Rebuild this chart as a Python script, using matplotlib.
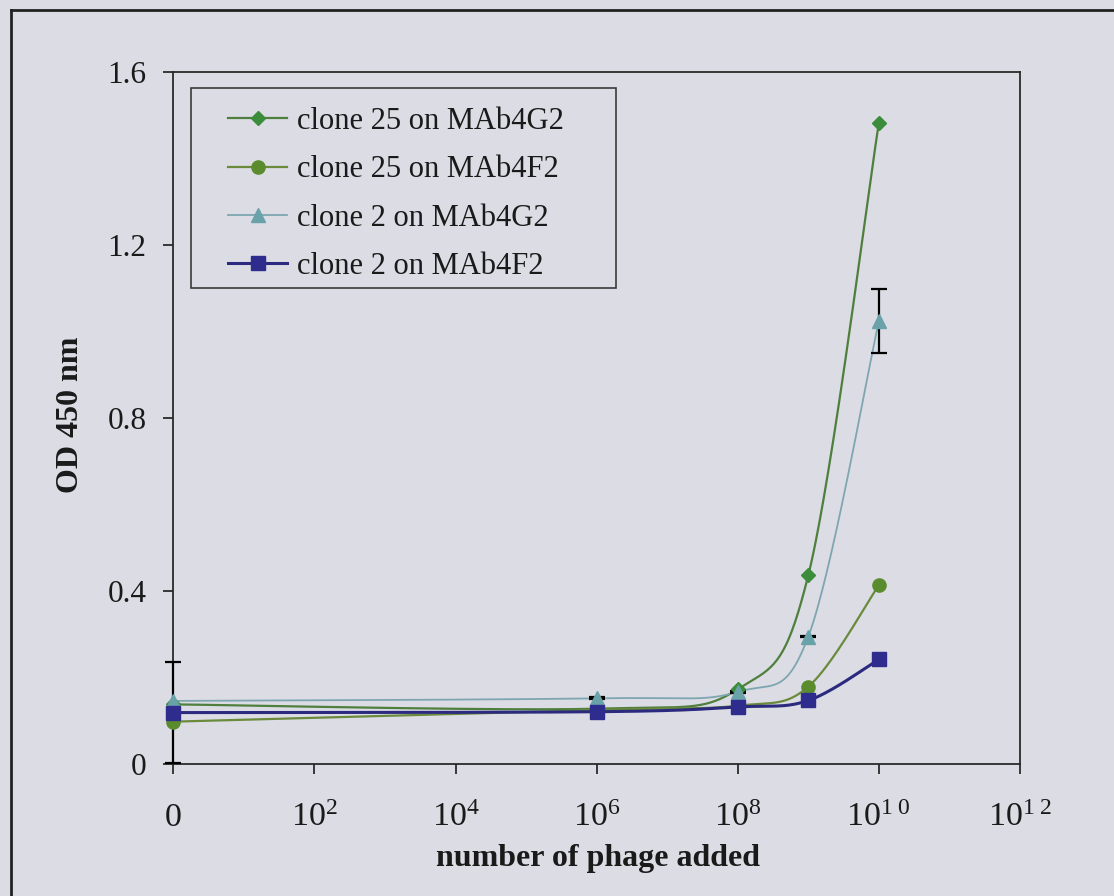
import numpy as np
import matplotlib
matplotlib.use("Agg")
import matplotlib.pyplot as plt
from matplotlib.lines import Line2D
from matplotlib.patches import Rectangle

# ---- data -------------------------------------------------------------
# phage added, as log10 of the count (0 is the no-phage control)
log_phage = [0, 6, 8, 9, 10]
tick_pos = [0, 2, 4, 6, 8, 10, 12]
tick_labels = ["0", r"$10^{2}$", r"$10^{4}$", r"$10^{6}$", r"$10^{8}$",
               r"$10^{1\ 0}$", r"$10^{1\ 2}$"]
y_ticks = [0, 0.4, 0.8, 1.2, 1.6]
y_tick_labels = ["0", "0.4", "0.8", "1.2", "1.6"]

series_names = ["clone 25 on MAb4G2", "clone 25 on MAb4F2",
                "clone 2 on MAb4G2", "clone 2 on MAb4F2"]
clone25_4g2 = [0.138, 0.128, 0.173, 0.437, 1.484]
clone25_4f2 = [0.098, 0.125, 0.135, 0.179, 0.414]
clone2_4g2 = [0.146, 0.152, 0.167, 0.295, 1.025]
clone2_4f2 = [0.119, 0.121, 0.132, 0.147, 0.242]
clone2_4g2_err = [0.0, 0.002, 0.002, 0.002, 0.075]
clone2_4f2_err = [0.117, 0.0, 0.0, 0.0, 0.0]

# ---- style --------------------------------------------------------------
BG = "#dcdce5"
plt.rcParams["font.family"] = ["Liberation Serif", "DejaVu Serif"]
plt.rcParams["mathtext.fontset"] = "custom"
plt.rcParams["mathtext.rm"] = "Liberation Serif"
plt.rcParams["mathtext.it"] = "Liberation Serif:italic"
plt.rcParams["mathtext.bf"] = "Liberation Serif:bold"

styles = [
    dict(line="#4f7f3c", face="#3b8d3b", marker="D", ms=6.8, lw=1.6),
    dict(line="#6a8a3c", face="#5a8c2e", marker="o", ms=9.5, lw=1.6),
    dict(line="#7ea6b0", face="#6aa2aa", marker="^", ms=9.5, lw=1.3),
    dict(line="#2b2a7e", face="#2e2c8c", marker="s", ms=10.5, lw=2.2),
]
series = [clone25_4g2, clone25_4f2, clone2_4g2, clone2_4f2]
errors = [None, None, clone2_4g2_err, clone2_4f2_err]

fig = plt.figure(figsize=(11.14, 8.96), dpi=100, facecolor=BG)
ax = fig.add_axes([0.1556, 0.1473, 0.7600, 0.7718], facecolor=BG)
ax.set_xlim(0, 12)
ax.set_ylim(0, 1.6)


def smooth(xs, ys, n=60):
    """Cardinal (Catmull-Rom) Bezier curve through the points, built in
    display space so the curvature follows the drawn aspect."""
    P = ax.transData.transform(np.column_stack([xs, ys]))
    out = []
    m = len(P)
    t = np.linspace(0, 1, n)[:, None]
    for i in range(m - 1):
        p0 = P[i - 1] if i > 0 else P[i]
        p1, p2 = P[i], P[i + 1]
        p3 = P[i + 2] if i + 2 < m else P[i + 1]
        c1 = p1 + (p2 - p0) / 6.0
        c2 = p2 - (p3 - p1) / 6.0
        seg = ((1 - t) ** 3) * p1 + 3 * ((1 - t) ** 2) * t * c1 \
            + 3 * (1 - t) * t ** 2 * c2 + t ** 3 * p2
        out.append(seg if i == 0 else seg[1:])
    pts = ax.transData.inverted().transform(np.vstack(out))
    return pts[:, 0], pts[:, 1]


handles = []
for k, (vals, st, err) in enumerate(zip(series, styles, errors)):
    cx, cy = smooth(log_phage, vals)
    ax.plot(cx, cy, color=st["line"], lw=st["lw"], zorder=2 + k * 0.1,
            solid_capstyle="round", clip_on=False)
    if err is not None:
        xe = [x for x, e in zip(log_phage, err) if e > 0]
        ye = [v for v, e in zip(vals, err) if e > 0]
        ee = [e for e in err if e > 0]
        ax.errorbar(xe, ye, yerr=ee, fmt="none", ecolor="black",
                    elinewidth=1.6, capsize=5.8, capthick=1.6, zorder=3,
                    clip_on=False)
    ax.plot(log_phage, vals, ls="none", marker=st["marker"], ms=st["ms"],
            mfc=st["face"], mec=st["face"], zorder=4 + k * 0.1, clip_on=False)
    handles.append(Line2D([], [], color=st["line"], lw=st["lw"],
                          marker=st["marker"], ms=st["ms"] * 1.0,
                          mfc=st["face"], mec=st["face"]))

# ---- axes ---------------------------------------------------------------
for sp in ax.spines.values():
    sp.set_color("#2a2a2a")
    sp.set_linewidth(1.3)

ax.set_xticks(tick_pos)
ax.set_xticklabels(tick_labels, fontsize=24.5)
ax.set_yticks(y_ticks)
ax.set_yticklabels(y_tick_labels, fontsize=22.5)
ax.tick_params(axis="both", direction="out", length=7.5, width=1.3,
               color="#2a2a2a", labelcolor="#1a1a1a")
ax.tick_params(axis="y", pad=12)
ax.tick_params(axis="x", pad=37)
for lab in ax.get_xticklabels():
    lab.set_verticalalignment("baseline")

ax.set_xlabel("number of phage added", fontsize=23, fontweight="bold",
              color="#1a1a1a")
ax.xaxis.set_label_coords(0.5016, -0.137)
ax.xaxis.label.set_verticalalignment("center")
ax.set_ylabel("OD 450 nm", fontsize=23, fontweight="bold", color="#1a1a1a")
ax.yaxis.set_label_coords(-0.1215, 0.505)
ax.yaxis.label.set_verticalalignment("center")

# ---- legend -------------------------------------------------------------
ax.add_patch(Rectangle((0.0206, 0.6879), 0.5225 - 0.0206, 0.9771 - 0.6879,
                       transform=ax.transAxes, fill=False, ec="#3a3a3a",
                       lw=1.2, zorder=5))
leg = ax.legend(handles, series_names, loc="upper left",
                bbox_to_anchor=(0.0646, 0.950), frameon=False, fontsize=22,
                borderpad=0, borderaxespad=0, handlelength=1.93,
                handletextpad=0.33, labelspacing=0.63)
for txt in leg.get_texts():
    txt.set_color("#1a1a1a")

# page border lines
fig.add_artist(Line2D([11 / 1114, 11 / 1114], [0, 1 - 10 / 896],
                      transform=fig.transFigure, color="#222222", lw=2))
fig.add_artist(Line2D([11 / 1114, 1], [1 - 10 / 896, 1 - 10 / 896],
                      transform=fig.transFigure, color="#222222", lw=2))

fig.savefig("out.png", dpi=100, facecolor=BG)
